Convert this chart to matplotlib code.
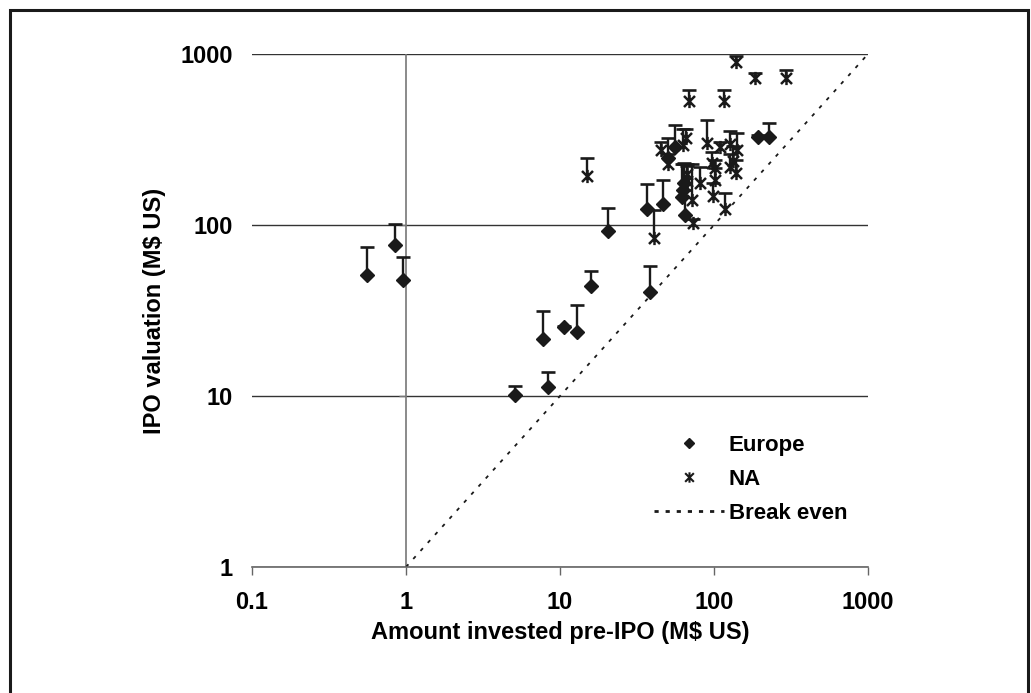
import matplotlib
matplotlib.use("Agg")
import matplotlib.pyplot as plt
import numpy as np
from matplotlib.path import Path
from matplotlib.lines import Line2D
from matplotlib.patches import Rectangle
from matplotlib.ticker import NullLocator

plt.rcParams['font.family'] = ['Liberation Sans', 'DejaVu Sans']
plt.rcParams['font.weight'] = 'bold'

# Europe: amount invested, IPO valuation, top of bar
eu_invested = [0.56, 0.85, 0.96, 5.1, 8.3, 7.7, 10.6, 12.9, 15.8, 20.5, 38.4,
               36.5, 46.7, 55.6, 50.3, 65.2, 62, 63, 64, 194, 226]
eu_value = [51, 76, 47.7, 10.2, 11.3, 21.5, 25.2, 23.8, 44.2, 92, 40.7,
            124, 133, 285, 245, 114, 146, 160, 175, 328, 328]
eu_top = [74, 101, 65, 11.5, 13.8, 31.3, 25.8, 33.9, 53.8, 126, 57.6,
          174, 183, 383, 321, 160, 226, 226, 230, 335, 394]

# North America
na_invested = [139, 185, 294, 68.5, 116, 15.0, 41.0, 73.4, 118, 45.1, 63.2,
               65.5, 50.5, 89.7, 110, 127, 142, 139, 127, 132, 96.6, 101,
               101, 99, 81, 71.6, 67, 67]
na_value = [901, 727, 721, 533, 533, 194, 83.6, 103, 124, 275, 294,
            321, 228, 301, 285, 298, 275, 201, 219, 238, 231, 214,
            183, 147, 175, 140, 200, 180]
na_top = [980, 778, 806, 615, 615, 245, 122, 108, 153, 307, 364,
          364, 260, 411, 307, 356, 347, 240, 260, 290, 266, 240,
          214, 175, 219, 226, 226, 220]

break_even = [1, 1000]
x_ticks = [0.1, 1, 10, 100, 1000]
x_labels = ['0.1', '1', '10', '100', '1000']
y_ticks = [1, 10, 100, 1000]
y_labels = ['1', '10', '100', '1000']

ink = '#1a1a1a'

# asterisk marker: X with a vertical stroke
star = Path([(-1, -1), (1, 1), (-1, 1), (1, -1), (0, -1.2), (0, 1.2)],
            [Path.MOVETO, Path.LINETO, Path.MOVETO, Path.LINETO,
             Path.MOVETO, Path.LINETO])

fig = plt.figure(figsize=(10.31, 6.93), dpi=100)
ax = fig.add_axes([252 / 1031, 1 - 567 / 693, 616 / 1031, 513 / 693])
ax.set_xscale('log')
ax.set_yscale('log')
ax.set_xlim(0.1, 1000)
ax.set_ylim(1, 1000)

for s in ['top', 'right', 'left']:
    ax.spines[s].set_visible(False)
ax.spines['bottom'].set_color('#666666')
ax.spines['bottom'].set_linewidth(1.2)

ax.set_xticks(x_ticks)
ax.set_xticklabels(x_labels)
ax.set_yticks(y_ticks)
ax.set_yticklabels(y_labels)
ax.xaxis.set_minor_locator(NullLocator())
ax.yaxis.set_minor_locator(NullLocator())
ax.tick_params(axis='x', direction='out', length=6, width=1, color='#666666',
               labelsize=17, pad=11)
ax.tick_params(axis='y', length=0, labelsize=17, pad=14)
ax.yaxis.grid(True, color='#333333', linewidth=1)
ax.set_axisbelow(True)

# vertical axis crossing at x = 1
ax.axvline(1, color='#777777', linewidth=1.2, zorder=1)
ax.plot([1] * 2, y_ticks[1:3], ls='none', marker=0, ms=5, mew=1,
        color='#777777', zorder=1)

ax.plot(break_even, break_even, color=ink, lw=1.3, ls=(0, (2, 4)),
        label='Break even', zorder=2)

ax.vlines(eu_invested, eu_value, eu_top, color=ink, lw=1.7, zorder=3)
ax.plot(eu_invested, eu_top, ls='none', marker='_', ms=9.5, mew=1.9,
        color=ink, zorder=3)
ax.vlines(na_invested, na_value, na_top, color=ink, lw=1.7, zorder=3)
ax.plot(na_invested, na_top, ls='none', marker='_', ms=9.5, mew=1.9,
        color=ink, zorder=3)

ax.plot(eu_invested, eu_value, ls='none', marker='D', ms=7,
        color=ink, zorder=4)
ax.plot(na_invested, na_value, ls='none', marker=star, ms=9.5, mew=1.8,
        color=ink, zorder=4)

ax.set_ylabel('IPO valuation (M$ US)', fontsize=17, fontweight='bold',
              va='center')
ax.set_xlabel('Amount invested pre-IPO (M$ US)', fontsize=17,
              fontweight='bold', va='center')
ax.yaxis.set_label_coords(-0.1575, 0.5)
ax.xaxis.set_label_coords(0.5, -0.127)

handles = [
    Line2D([], [], ls='none', marker='D', ms=5.5, color=ink),
    Line2D([], [], ls='none', marker=star, ms=7.5, mew=1.5, color=ink),
    Line2D([], [], color=ink, lw=2, ls=(0, (1.5, 2.5))),
]
ax.legend(handles, ['Europe', 'NA', 'Break even'], frameon=False,
          loc='upper left', bbox_to_anchor=(654 / 1031, 1 - 435 / 693),
          bbox_transform=fig.transFigure, borderpad=0, borderaxespad=0,
          handlelength=3.15, handletextpad=0.22, labelspacing=0.58,
          prop={'size': 16, 'weight': 'bold'})

fig.add_artist(Rectangle((10 / 1031, -0.05), 1018 / 1031, 1.05 - 10 / 693,
                         transform=fig.transFigure, fill=False,
                         edgecolor=ink, linewidth=2.2, clip_on=False))

fig.savefig('out.png', dpi=100)
